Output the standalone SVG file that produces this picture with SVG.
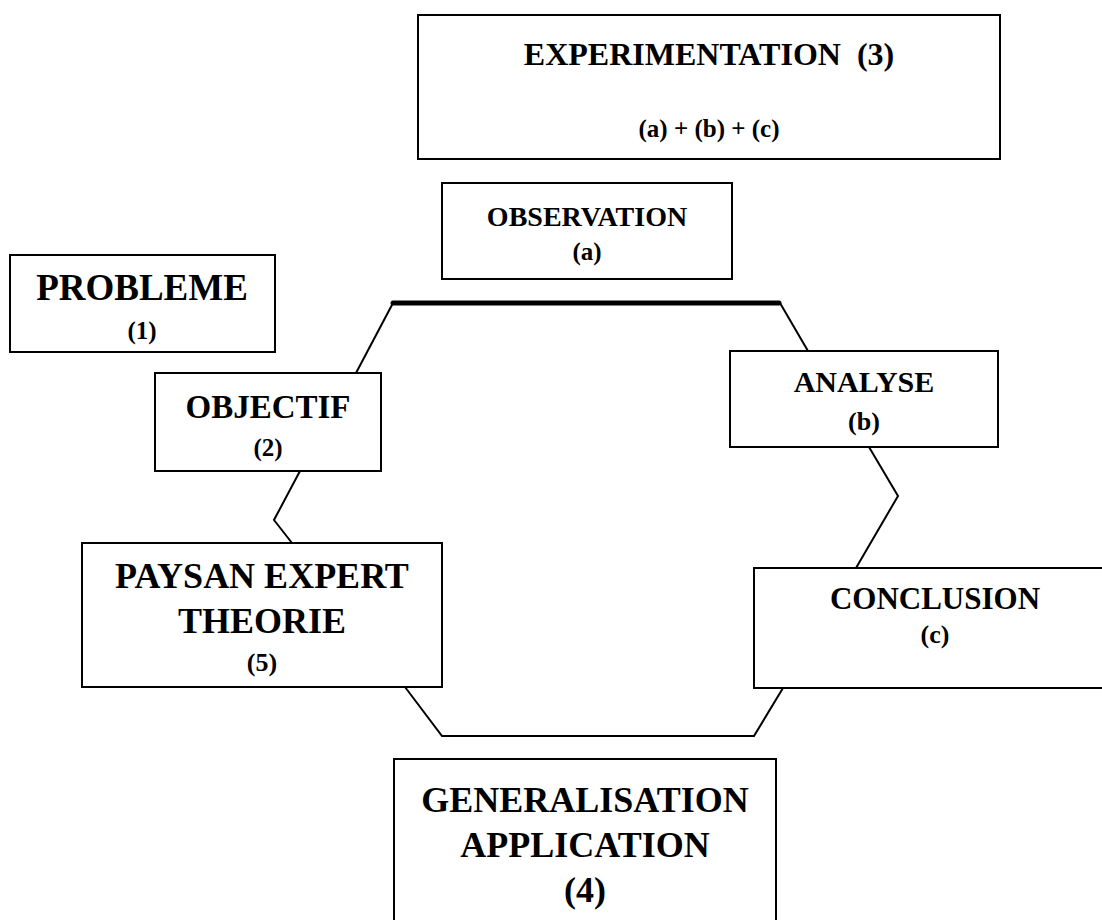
<svg xmlns="http://www.w3.org/2000/svg" width="1102" height="920" viewBox="0 0 1102 920">
<style>
.box{fill:#fff;stroke:#000;stroke-width:2}
.t{font-family:"Liberation Serif","Times New Roman",serif;font-weight:bold;fill:#000;text-anchor:middle}
.conn{fill:none;stroke:#000;stroke-width:2;stroke-linejoin:miter}
</style>
<rect width="1102" height="920" fill="#fff"/>
<g id="connectors">
<line x1="393" y1="303" x2="779" y2="303" stroke="#000" stroke-width="5" stroke-linecap="round"/>
<polyline class="conn" points="393,303 356,373"/>
<polyline class="conn" points="780,303 808,351"/>
<polyline class="conn" points="300,471 274,520 292,543"/>
<polyline class="conn" points="869,447 898,496 856,568"/>
<polyline class="conn" points="405,687 442,736 754,736 783,688"/>
</g>
<g id="experimentation">
<rect class="box" x="418" y="15" width="582" height="144"/>
<text class="t" x="709" y="65" font-size="32" xml:space="preserve">EXPERIMENTATION  (3)</text>
<text class="t" x="709" y="137" font-size="25">(a) + (b) + (c)</text>
</g>
<g id="observation">
<rect class="box" x="442" y="183" width="290" height="96"/>
<text class="t" x="587" y="226" font-size="28">OBSERVATION</text>
<text class="t" x="587" y="260" font-size="25">(a)</text>
</g>
<g id="probleme">
<rect class="box" x="10" y="255" width="265" height="97"/>
<text class="t" x="142" y="300" font-size="37">PROBLEME</text>
<text class="t" x="142" y="339" font-size="25">(1)</text>
</g>
<g id="objectif">
<rect class="box" x="155" y="373" width="226" height="98"/>
<text class="t" x="268" y="418" font-size="33">OBJECTIF</text>
<text class="t" x="268" y="456" font-size="25">(2)</text>
</g>
<g id="analyse">
<rect class="box" x="730" y="351" width="268" height="96"/>
<text class="t" x="864" y="392" font-size="30">ANALYSE</text>
<text class="t" x="864" y="430" font-size="26">(b)</text>
</g>
<g id="paysan">
<rect class="box" x="82" y="543" width="360" height="144"/>
<text class="t" x="262" y="588" font-size="36">PAYSAN EXPERT</text>
<text class="t" x="262" y="633" font-size="36">THEORIE</text>
<text class="t" x="262" y="671" font-size="26">(5)</text>
</g>
<g id="conclusion">
<rect class="box" x="754" y="568" width="360" height="120"/>
<text class="t" x="935" y="609" font-size="31">CONCLUSION</text>
<text class="t" x="935" y="643" font-size="26">(c)</text>
</g>
<g id="generalisation">
<rect class="box" x="394" y="759" width="382" height="170"/>
<text class="t" x="585" y="812" font-size="36">GENERALISATION</text>
<text class="t" x="585" y="857" font-size="36">APPLICATION</text>
<text class="t" x="585" y="902" font-size="36">(4)</text>
</g>
</svg>
